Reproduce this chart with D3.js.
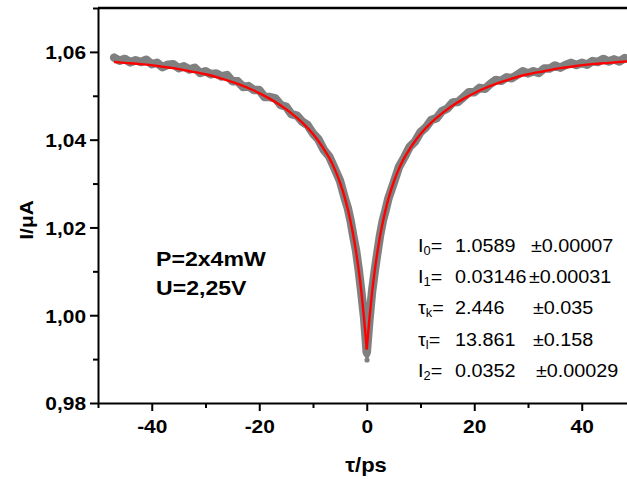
<!DOCTYPE html>
<html><head><meta charset="utf-8">
<script src="https://cdn.jsdelivr.net/npm/d3@7"></script>
<style>
body{margin:0;background:#fff;}
svg{display:block;}
text{font-family:"Liberation Sans",Arial,sans-serif;}
</style></head>
<body><svg id="c" width="627" height="479"></svg>
<script>
// measured data (gray)
const dataTau = [-47,-46,-45,-44,-43,-42,-41,-40,-39,-38,-37,-36,-35,-34,-33,-32,-31,-30,-29,-28,-27,-26,-25,-24,-23,-22,-21,-20,-19,-18,-17,-16,-15,-14,-13,-12,-11,-10,-9,-8,-7,-6,-5,-4,-3.5,-3,-2.5,-2,-1.5,-1,-0.5,0,0.5,1,1.5,2,2.5,3,3.5,4,5,6,7,8,9,10,11,12,13,14,15,16,17,18,19,20,21,22,23,24,25,26,27,28,29,30,31,32,33,34,35,36,37,38,39,40,41,42,43,44,45,46,47,48,49];
const dataI = [1.0587,1.0580,1.0584,1.0576,1.0581,1.0577,1.0582,1.0572,1.0575,1.0565,1.0571,1.0572,1.0563,1.0567,1.0560,1.0564,1.0552,1.0556,1.0549,1.0551,1.0544,1.0547,1.0533,1.0533,1.0520,1.0522,1.0513,1.0513,1.0497,1.0497,1.0494,1.0479,1.0475,1.0458,1.0455,1.0441,1.0433,1.0414,1.0401,1.0377,1.0362,1.0335,1.0307,1.0263,1.0243,1.0215,1.0180,1.0148,1.0104,1.0051,0.9996,0.9915,0.9991,1.0055,1.0102,1.0144,1.0184,1.0216,1.0239,1.0265,1.0301,1.0338,1.0360,1.0384,1.0396,1.0417,1.0428,1.0445,1.0449,1.0465,1.0471,1.0485,1.0486,1.0497,1.0508,1.0508,1.0518,1.0516,1.0527,1.0536,1.0534,1.0542,1.0540,1.0548,1.0556,1.0551,1.0556,1.0552,1.0562,1.0562,1.0569,1.0564,1.0570,1.0575,1.0570,1.0575,1.0571,1.0579,1.0577,1.0584,1.0578,1.0583,1.0578,1.0586,1.0583];
const extraTau = [0.05, 0.05, 0.1];
const extraI = [0.9898, 0.9908, 1.0020];
// fitted curve (red)
const fitTau = [-47,-45,-42,-39,-36,-33,-30,-27,-24,-21,-18,-16,-14,-12,-10,-9,-8,-7,-6,-5,-4,-3.5,-3,-2.5,-2,-1.5,-1,-0.5,0,0.5,1,1.5,2,2.5,3,3.5,4,5,6,7,8,9,10,12,14,16,18,21,24,27,30,33,36,39,42,45,49];
const fitI = [1.0577,1.0575,1.0572,1.0568,1.0563,1.0556,1.0549,1.0539,1.0527,1.0512,1.0493,1.0478,1.0460,1.0439,1.0413,1.0397,1.0379,1.0359,1.0334,1.0303,1.0264,1.0240,1.0213,1.0182,1.0145,1.0103,1.0053,0.9993,0.9922,0.9993,1.0053,1.0103,1.0145,1.0182,1.0213,1.0240,1.0264,1.0303,1.0334,1.0359,1.0379,1.0397,1.0413,1.0439,1.0460,1.0478,1.0493,1.0512,1.0527,1.0539,1.0549,1.0556,1.0563,1.0568,1.0572,1.0575,1.0579];
// axes
const xMajor = [-40,-20,0,20,40];
const xMajorLabels = ["-40","-20","0","20","40"];
const xMinor = [-50,-30,-10,10,30];
const yMajor = [0.98,1.00,1.02,1.04,1.06];
const yMajorLabels = ["0,98","1,00","1,02","1,04","1,06"];
const yMinor = [0.99,1.01,1.03,1.05,1.07];
const xTitle = "τ/ps";
const yTitle = "I/μA";
const conditions = ["P=2x4mW","U=2,25V"];
const paramSym = ["I","I","τ","τ","I"];
const paramSub = ["0","1","k","l","2"];
const paramValue = ["1.0589","0.03146","2.446","13.861","0.0352"];
const paramError = ["±0.00007","±0.00031","±0.035","±0.158","±0.00029"];

// layout
const SX = 1.1, SXP = 1.07;
const errX = [531,529,533,533,536];
const svg = d3.select("#c");
const x = d3.scaleLinear().domain([-50,50]).range([98,635.5]);
const y = d3.scaleLinear().domain([0.98,1.07]).range([403,8]);

svg.append("clipPath").attr("id","clip").append("rect")
  .attr("x",98).attr("y",8).attr("width",540).attr("height",395);

const plot = svg.append("g").attr("clip-path","url(#clip)");
const pts = dataTau.map((t,i)=>[t,dataI[i]]);
const line = d3.line().x(d=>x(d[0])).y(d=>y(d[1]));
plot.append("path").attr("d",line(pts)).attr("fill","none")
  .attr("stroke","#808080").attr("stroke-width",8.5).attr("stroke-linejoin","round").attr("stroke-linecap","round");
plot.selectAll("circle.d").data(extraTau.map((t,i)=>[t,extraI[i]])).join("circle")
  .attr("class","d").attr("cx",d=>x(d[0])).attr("cy",d=>y(d[1])).attr("r",2.6).attr("fill","#808080");

const fit = fitTau.map((t,i)=>[t,fitI[i]]);
const fline = d3.line().x(d=>x(d[0])).y(d=>y(d[1])).curve(d3.curveMonotoneX);
plot.append("path").attr("d",fline(fit.filter(d=>d[0]<=0))).attr("fill","none").attr("stroke","#ff0000").attr("stroke-width",2.4);
plot.append("path").attr("d",fline(fit.filter(d=>d[0]>=0))).attr("fill","none").attr("stroke","#ff0000").attr("stroke-width",2.4);

// axes
const fontTick = "bold 19px 'Liberation Sans', Arial, sans-serif";
const xa = svg.append("g").attr("transform","translate(0,403)")
  .call(d3.axisBottom(x).tickValues(xMajor).tickSize(8).tickSizeOuter(0).tickFormat((d,i)=>xMajorLabels[i]));
xa.select(".domain").attr("stroke-width",2);
xa.selectAll(".tick line").attr("stroke-width",2);
xa.selectAll(".tick text").attr("y",30).attr("dy",0).attr("transform",`scale(${SX},1)`).style("font",fontTick).attr("fill","#000");
svg.append("g").attr("transform","translate(0,403)")
  .call(d3.axisBottom(x).tickValues(xMinor).tickSize(5).tickFormat(""))
  .call(g=>g.select(".domain").remove()).selectAll("line").attr("stroke-width",2);

const ya = svg.append("g").attr("transform","translate(98,0)")
  .call(d3.axisLeft(y).tickValues(yMajor).tickSize(8).tickSizeOuter(0).tickFormat((d,i)=>yMajorLabels[i]));
ya.select(".domain").attr("stroke-width",2);
ya.selectAll(".tick line").attr("stroke-width",2);
ya.selectAll(".tick text").attr("x",-12/SX).attr("dy","0.36em").attr("transform",`scale(${SX},1)`).style("font",fontTick).attr("fill","#000");
svg.append("g").attr("transform","translate(98,0)")
  .call(d3.axisLeft(y).tickValues(yMinor).tickSize(5).tickFormat(""))
  .call(g=>g.select(".domain").remove()).selectAll("line").attr("stroke-width",2);

// top frame
svg.append("line").attr("x1",98).attr("x2",640).attr("y1",y(1.07)).attr("y2",y(1.07)).attr("stroke","#000").attr("stroke-width",2.5);

// titles
svg.append("text").attr("transform",`translate(366,472) scale(${SX},1)`).attr("text-anchor","middle").style("font","bold 20px 'Liberation Sans', Arial, sans-serif").text(xTitle);
svg.append("text").attr("transform",`translate(33,220) rotate(-90) scale(${SX},1)`).attr("text-anchor","middle").style("font",fontTick).text(yTitle);

// conditions
conditions.forEach((s,i)=>{
  svg.append("text").attr("transform",`translate(156,${266+i*29}) scale(${SX},1)`).style("font","bold 21px 'Liberation Sans', Arial, sans-serif").text(s);
});

// parameters
paramSym.forEach((s,i)=>{
  const by = 252+i*31.2;
  const t = svg.append("text").attr("transform",`translate(418,${by}) scale(${SXP},1)`)
    .style("font","18.5px 'Liberation Sans', Arial, sans-serif");
  t.append("tspan").attr("x",0).text(s);
  t.append("tspan").attr("dy",3).style("font-size","12px").text(paramSub[i]);
  t.append("tspan").attr("dy",-3).text("=");
  t.append("tspan").attr("x",(455-418)/SXP).text(paramValue[i]);
  t.append("tspan").attr("x",(errX[i]-418)/SXP).text(paramError[i]);
});
</script></body></html>
